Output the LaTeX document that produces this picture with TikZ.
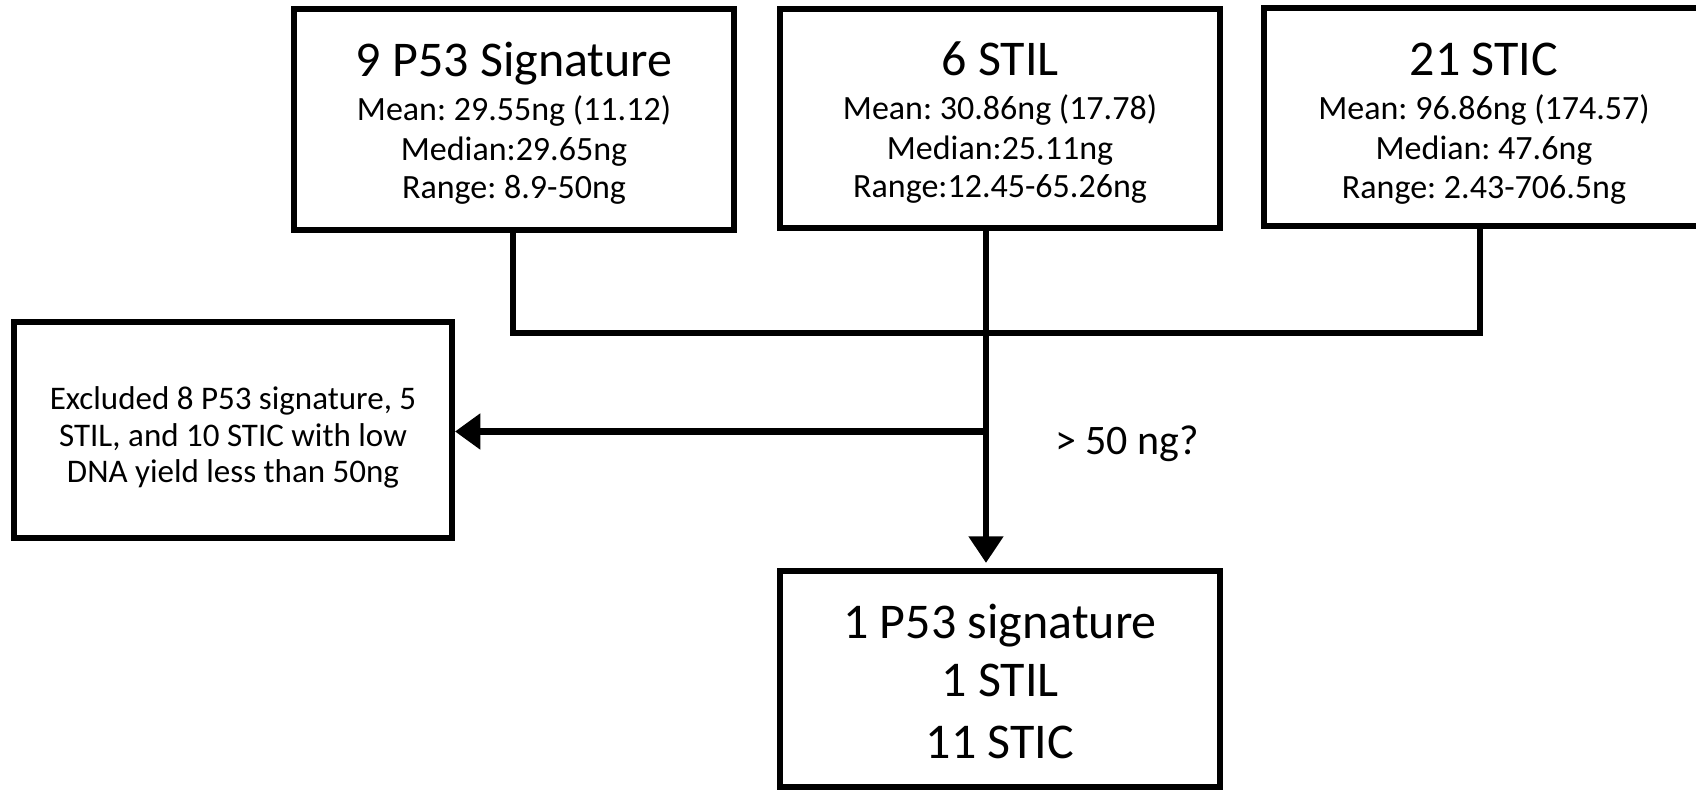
\documentclass[tikz,border=0pt]{standalone}
\usepackage{fontspec}
\setmainfont{Carlito}
\usetikzlibrary{arrows.meta,calc}
\frenchspacing
\begin{document}
\begin{tikzpicture}[x=0.75pt,y=-0.75pt,
  box/.style={draw=black,line width=4.5pt,rectangle,inner sep=0pt,outer sep=0pt,fill=white},
  txt/.style={inner sep=0pt,outer sep=0pt,anchor=base,text=black},
  title/.style={txt,font=\fontsize{37.5pt}{45pt}\selectfont},
  body/.style={txt,font=\fontsize{25.5pt}{30pt}\selectfont},
  excl/.style={txt,font=\fontsize{24.75pt}{30pt}\selectfont},
  lbl/.style={inner sep=0pt,outer sep=0pt,anchor=base west,font=\fontsize{31.5pt}{36pt}\selectfont},
  conn/.style={line width=5pt,draw=black,line cap=rect},
  arr/.style={line width=5pt,draw=black}
]
\useasboundingbox (0,0) rectangle (1696,791);
\fill[white] (0,0) rectangle (1696,791);

% boxes
\node[box,minimum width=330pt,minimum height=165.75pt] (b1) at (514,120) {};
\node[box,minimum width=330pt,minimum height=164.25pt] (b2) at (1000,118.5) {};
\node[box,minimum width=330pt,minimum height=163.5pt] (b3) at (1484,117.5) {};
\node[box,minimum width=328.5pt,minimum height=162pt] (ex) at (233,430) {};
\node[box,minimum width=330pt,minimum height=162pt] (res) at (1000,679) {};

% texts box 1
\node[title] (t1a) at (514,77) {9 P53 Signature};
\node[body] (t1b) at (514,121) {Mean: 29.55ng (11.12)};
\node[body] (t1c) at (514,161) {Median:29.65ng};
\node[body] (t1d) at (514,199) {Range: 8.9-50ng};
% texts box 2
\node[title] (t2a) at (1000,76) {6 STIL};
\node[body] (t2b) at (1000,120) {Mean: 30.86ng (17.78)};
\node[body] (t2c) at (1000,160) {Median:25.11ng};
\node[body] (t2d) at (1000,198) {Range:12.45-65.26ng};
% texts box 3
\node[title] (t3a) at (1484,76) {21 STIC};
\node[body] (t3b) at (1484,120) {Mean: 96.86ng (174.57)};
\node[body] (t3c) at (1484,160) {Median: 47.6ng};
\node[body] (t3d) at (1484,199) {Range: 2.43-706.5ng};
% excluded
\node[excl] (e1) at (233,410) {Excluded 8 P53 signature, 5};
\node[excl] (e2) at (233,447) {STIL, and 10 STIC with low};
\node[excl] (e3) at (233,483) {DNA yield less than 50ng};
% result
\node[title] (r1) at (1000,638) {1 P53 signature};
\node[title] (r2) at (1000,696) {1 STIL};
\node[title] (r3) at (1000,758) {11 STIC};
% label
\node[lbl] (q) at (1055,455) {> 50 ng?};

% connectors
\coordinate (bl) at (513,333);
\coordinate (br) at (1480,333);
\coordinate (mid) at (986,431.5);
\draw[conn] (b1.south -| bl) -- (bl) -- (br) -- (b3.south -| br);
\draw[arr,-{Triangle[length=20pt,width=25pt]}] (b2.south -| mid) -- ($(res.north -| mid)+(0,-8)$);
\draw[arr,-{Triangle[length=19pt,width=26pt]}] (mid) -- ($(ex.east |- mid)+(3,0)$);
\end{tikzpicture}
\end{document}
